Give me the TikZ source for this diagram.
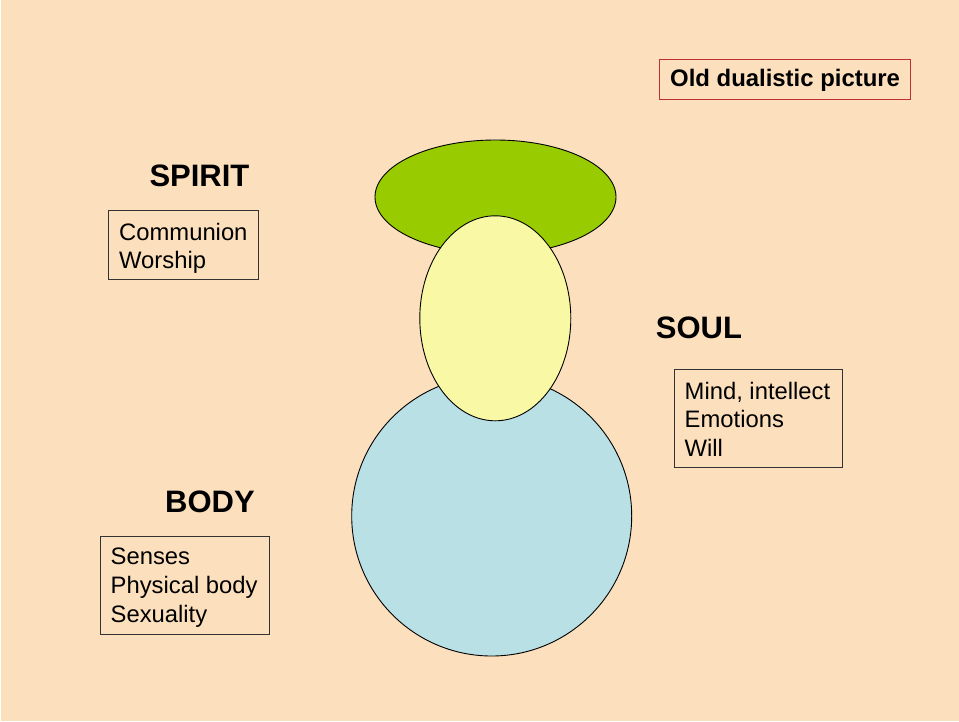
\documentclass[tikz,border=0pt]{standalone}
\usepackage{fontspec}
\setmainfont{Liberation Sans}
\usetikzlibrary{shapes.geometric}
\definecolor{bgpeach}{RGB}{252,224,190}
\definecolor{spiritgreen}{RGB}{153,204,0}
\definecolor{soulyellow}{RGB}{249,248,165}
\definecolor{bodyblue}{RGB}{185,224,228}
\definecolor{titlered}{RGB}{192,48,48}
\tikzset{
  part/.style={ellipse, draw=black, line width=0.9pt, inner sep=0pt},
  heading/.style={font=\fontsize{31}{36}\selectfont\bfseries, anchor=base west, inner sep=0pt},
  item/.style={font=\fontsize{23.8}{28.5}\selectfont, anchor=base west, inner sep=0pt},
  listbox/.style={draw=black!80, line width=0.8pt, anchor=north west, inner sep=0pt},
}
\begin{document}
\begin{tikzpicture}[x=1pt,y=-1pt]
\useasboundingbox (0,0) rectangle (959,721);
\fill[white] (0,0) rectangle (959,721);
\fill[bgpeach] (1,0) rectangle (959,721);

% shapes
\node[part, fill=spiritgreen, minimum width=241, minimum height=114] (spirit) at (495.5,197) {};
\node[part, fill=bodyblue, minimum width=280, minimum height=280] (body) at (491.7,516) {};
\node[part, fill=soulyellow, minimum width=151, minimum height=205] (soul) at (495.3,318.3) {};

% title
\node[draw=titlered, line width=0.9pt, anchor=north west, inner sep=0pt, minimum width=251, minimum height=39.5] (titlebox) at (659.3,59.3) {};
\node[font=\fontsize{23.9}{28}\selectfont\bfseries, anchor=base west, inner sep=0pt] (title) at (670,86.7) {Old dualistic picture};

% headings
\node[heading] (spiritlbl) at (149.3,186) {SPIRIT};
\node[heading] (soullbl) at (655.7,338.3) {SOUL};
\node[heading] (bodylbl) at (165,512.3) {BODY};

% spirit box
\node[listbox, minimum width=150, minimum height=68.7] (spiritbox) at (107.7,210.3) {};
\node[item] (s1) at (119,240.7) {Communion};
\node[item] (s2) at (119,268.3) {Worship};

% soul box
\node[listbox, minimum width=167.4, minimum height=97.4] (soulbox) at (674.3,369.3) {};
\node[item] (m1) at (684.5,399) {Mind, intellect};
\node[item] (m2) at (684.5,427.3) {Emotions};
\node[item] (m3) at (684.5,456) {Will};

% body box
\node[listbox, minimum width=168.7, minimum height=97.4] (bodybox) at (100.3,536.3) {};
\node[item] (b1) at (110.5,564.3) {Senses};
\node[item] (b2) at (110.5,593.3) {Physical body};
\node[item] (b3) at (110.5,622) {Sexuality};
\end{tikzpicture}
\end{document}
